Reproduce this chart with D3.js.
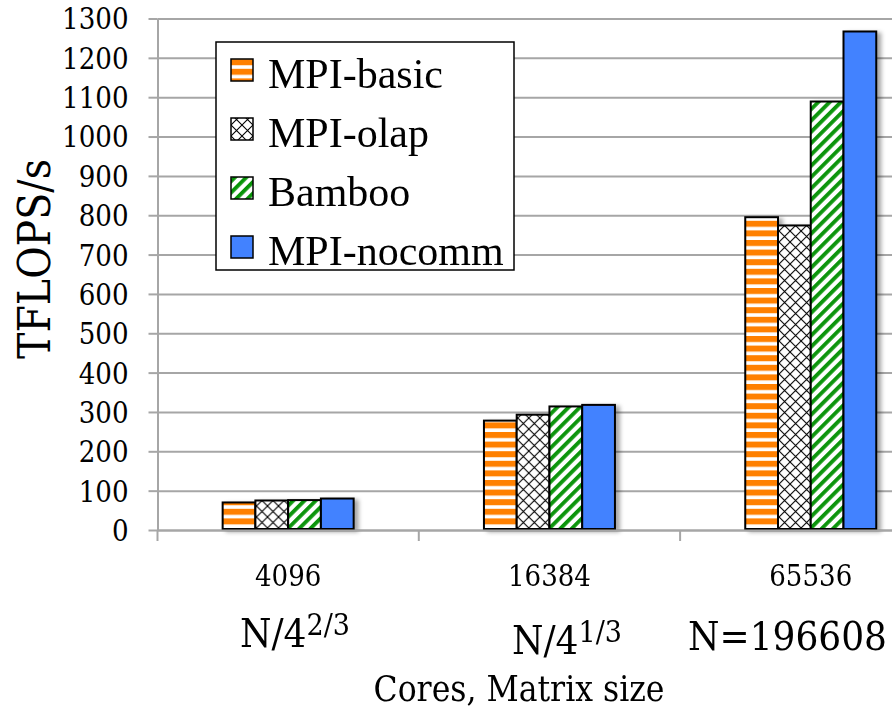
<!DOCTYPE html>
<html>
<head>
<meta charset="utf-8">
<script src="https://cdn.jsdelivr.net/npm/d3@7"></script>
<style>
  body { margin: 0; background: #fff; }
  svg { display: block; }
  .cam { font-family: "DejaVu Serif Condensed", "DejaVu Serif", serif; font-stretch: condensed; }
</style>
</head>
<body>
<div id="chart"></div>
<script>
// data
const categories = ["4096", "16384", "65536"];
const seriesNames = ["MPI-basic", "MPI-olap", "Bamboo", "MPI-nocomm"];
const mpiBasic = [70, 278, 795];
const mpiOlap = [75, 293, 774];
const bamboo = [76, 314, 1089];
const mpiNocomm = [80, 318, 1267];
const yTicks = d3.range(0, 1301, 100);

const seriesValues = [mpiBasic, mpiOlap, bamboo, mpiNocomm];

const W = 892, H = 711;
const plotLeft = 157.5, plotBottom = 530, plotTop = 18.5;
const catWidth = 261.3;

const svg = d3.select("#chart").append("svg")
    .attr("width", W)
    .attr("height", H);

const defs = svg.append("defs");

// orange horizontal stripes
let p = defs.append("pattern").attr("id", "p0")
    .attr("patternUnits", "userSpaceOnUse")
    .attr("width", 10).attr("height", 9.6);
p.append("rect").attr("width", 10).attr("height", 9.6).attr("fill", "#fff");
p.append("rect").attr("width", 10).attr("height", 6).attr("fill", "#ff8000");

// black diamond crosshatch
p = defs.append("pattern").attr("id", "p1")
    .attr("patternUnits", "userSpaceOnUse")
    .attr("width", 11).attr("height", 11);
p.append("rect").attr("width", 11).attr("height", 11).attr("fill", "#fff");
p.append("path").attr("d", "M0,0L11,11M11,0L0,11")
    .attr("stroke", "#000").attr("stroke-width", 1.1);

// green diagonal stripes
p = defs.append("pattern").attr("id", "p2")
    .attr("patternUnits", "userSpaceOnUse")
    .attr("width", 8).attr("height", 8)
    .attr("patternTransform", "rotate(45)");
p.append("rect").attr("width", 8).attr("height", 8).attr("fill", "#fff");
p.append("rect").attr("width", 3.8).attr("height", 8).attr("fill", "#079407");

const fills = ["url(#p0)", "url(#p1)", "url(#p2)", "#4282ff"];

// soft shadow for the bars
const f = defs.append("filter").attr("id", "shadow")
    .attr("x", "-20%").attr("y", "-20%").attr("width", "160%").attr("height", "140%");
f.append("feDropShadow")
    .attr("dx", 4).attr("dy", 2).attr("stdDeviation", 2)
    .attr("flood-color", "#000").attr("flood-opacity", 0.35);

// scales
const x = d3.scaleBand()
    .domain(categories)
    .range([plotLeft, plotLeft + catWidth * categories.length]);

const xSub = d3.scaleBand()
    .domain(seriesNames)
    .range([catWidth / 2 - 65.5, catWidth / 2 + 65.5]);

const y = d3.scaleLinear()
    .domain([0, 1300])
    .range([plotBottom, plotTop]);

// gridlines
svg.append("g")
    .attr("transform", "translate(" + plotLeft + ",0)")
    .call(d3.axisRight(y).tickValues(yTicks).tickSize(W - plotLeft).tickFormat(""))
    .call(g => g.select(".domain").remove())
    .call(g => g.selectAll("line").attr("stroke", "#a6a6a6").attr("stroke-width", 2));

// y axis
svg.append("g")
    .attr("transform", "translate(" + plotLeft + ",0)")
    .call(d3.axisLeft(y).tickValues(yTicks).tickFormat(d3.format("d"))
        .tickSize(9).tickSizeOuter(0).tickPadding(20))
    .call(g => g.attr("font-family", null).attr("font-size", null))
    .call(g => g.select(".domain").attr("stroke", "#a6a6a6").attr("stroke-width", 2))
    .call(g => g.selectAll("line").attr("stroke", "#a6a6a6").attr("stroke-width", 2))
    .call(g => g.selectAll("text")
        .attr("class", "cam")
        .attr("font-size", 29)
        .attr("fill", "#000")
        .attr("dy", "0.36em"));

// bars
const groups = svg.append("g")
    .attr("filter", "url(#shadow)")
    .selectAll("g")
    .data(categories)
    .join("g")
    .attr("transform", d => "translate(" + x(d) + ",0)");

groups.selectAll("rect")
    .data((d, i) => seriesNames.map((s, j) => ({ s: s, j: j, v: seriesValues[j][i] })))
    .join("rect")
    .attr("x", d => xSub(d.s))
    .attr("width", xSub.bandwidth())
    .attr("y", d => y(d.v))
    .attr("height", d => plotBottom - 1 - y(d.v))
    .attr("fill", d => fills[d.j])
    .attr("stroke", "#000")
    .attr("stroke-width", 2);

// x axis
svg.append("g")
    .attr("transform", "translate(0," + plotBottom + ")")
    .call(d3.axisBottom(x).tickSize(0).tickPadding(56))
    .call(g => g.attr("font-family", null).attr("font-size", null))
    .call(g => g.select(".domain").attr("stroke", "#a6a6a6").attr("stroke-width", 2))
    .call(g => g.selectAll("text")
        .attr("class", "cam")
        .attr("font-size", 29)
        .attr("fill", "#000")
        .attr("dy", 0));

// category separator ticks
svg.append("g")
    .selectAll("line")
    .data(d3.range(categories.length + 1))
    .join("line")
    .attr("x1", i => plotLeft + i * catWidth)
    .attr("x2", i => plotLeft + i * catWidth)
    .attr("y1", plotBottom)
    .attr("y2", plotBottom + 11)
    .attr("stroke", "#a6a6a6")
    .attr("stroke-width", 2);

// y title
svg.append("text")
    .attr("class", "cam")
    .attr("transform", "translate(50,259) rotate(-90)")
    .attr("text-anchor", "middle")
    .attr("font-size", 44)
    .text("TFLOPS/s");

// matrix size notes
function powerLabel(px, py, base, exp) {
    const t = svg.append("text")
        .attr("class", "cam")
        .attr("x", px).attr("y", py)
        .attr("font-size", 40);
    t.append("tspan").text(base);
    t.append("tspan").attr("font-size", 30).attr("dy", -12).text(exp);
}
powerLabel(240, 647, "N/4", "2/3");
powerLabel(512, 654, "N/4", "1/3");

svg.append("text")
    .attr("class", "cam")
    .attr("x", 688).attr("y", 650)
    .attr("font-size", 40)
    .text("N=196608");

svg.append("text")
    .attr("class", "cam")
    .attr("x", 519).attr("y", 701)
    .attr("text-anchor", "middle")
    .attr("font-size", 35)
    .text("Cores, Matrix size");

// legend
const legend = svg.append("g");
legend.append("rect")
    .attr("x", 216).attr("y", 42)
    .attr("width", 298).attr("height", 228)
    .attr("fill", "#fff")
    .attr("stroke", "#000")
    .attr("stroke-width", 1.5);

const rows = legend.selectAll("g.row")
    .data(seriesNames)
    .join("g")
    .attr("class", "row")
    .attr("transform", (d, i) => "translate(0," + (88 + i * 59) + ")");

rows.append("rect")
    .attr("x", 231).attr("y", -29)
    .attr("width", 22).attr("height", 22)
    .attr("fill", (d, i) => fills[i])
    .attr("stroke", "#000")
    .attr("stroke-width", 1.5);

rows.append("text")
    .attr("x", 268)
    .attr("font-family", "Liberation Serif")
    .attr("font-size", 42)
    .text(d => d);
</script>
</body>
</html>
